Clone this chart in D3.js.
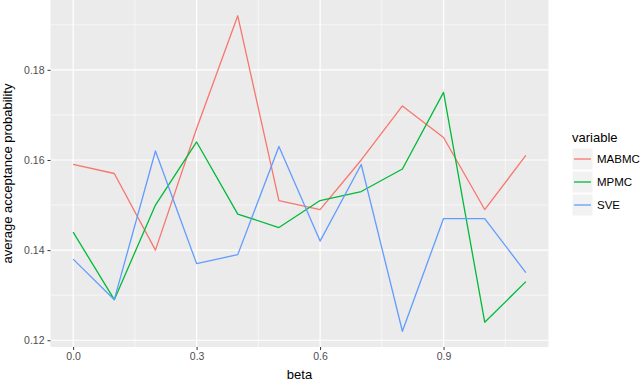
<!DOCTYPE html>
<html>
<head>
<meta charset="utf-8">
<script src="https://cdn.jsdelivr.net/npm/d3@7"></script>
<style>
  html, body { margin: 0; padding: 0; background: #fff; }
  svg { display: block; font-family: "Liberation Sans", Arial, sans-serif; }
</style>
</head>
<body>
<svg id="chart" width="640" height="382"></svg>
<script>
const beta = [0.0, 0.1, 0.2, 0.3, 0.4, 0.5, 0.6, 0.7, 0.8, 0.9, 1.0, 1.1];
const seriesNames = ["MABMC", "MPMC", "SVE"];
const MABMC = [0.159, 0.157, 0.140, 0.167, 0.192, 0.151, 0.149, 0.160, 0.172, 0.165, 0.149, 0.161];
const MPMC  = [0.144, 0.129, 0.150, 0.164, 0.148, 0.145, 0.151, 0.153, 0.158, 0.175, 0.124, 0.133];
const SVE   = [0.138, 0.129, 0.162, 0.137, 0.139, 0.163, 0.142, 0.159, 0.122, 0.147, 0.147, 0.135];
const xTicks = [0.0, 0.3, 0.6, 0.9];
const xMinor = [0.15, 0.45, 0.75, 1.05];
const yTicks = [0.12, 0.14, 0.16, 0.18];
const yMinor = [0.13, 0.15, 0.17, 0.19];
const colors = ["#F8766D", "#00BA38", "#619CFF"];
const seriesValues = [MABMC, MPMC, SVE];

const svg = d3.select("#chart");
const panel = { left: 50.5, right: 548.5, top: 0, bottom: 347 };

const allVals = seriesValues.flat();
const yMin = d3.min(allVals), yMax = d3.max(allVals);
const yPad = (yMax - yMin) * 0.05;
const xPad = (d3.max(beta) - d3.min(beta)) * 0.05;

const x = d3.scaleLinear().domain([d3.min(beta) - xPad, d3.max(beta) + xPad]).range([panel.left, panel.right]);
const y = d3.scaleLinear().domain([yMin - yPad, yMax + yPad]).range([panel.bottom, panel.top]);

// panel background
svg.append("rect").attr("x", panel.left).attr("y", panel.top)
  .attr("width", panel.right - panel.left).attr("height", panel.bottom - panel.top)
  .attr("fill", "#EBEBEB");

const grid = svg.append("g");
// minor grid
grid.selectAll(".ymin").data(yMinor).join("line")
  .attr("x1", panel.left).attr("x2", panel.right)
  .attr("y1", d => y(d)).attr("y2", d => y(d))
  .attr("stroke", "#fff").attr("stroke-width", 0.6);
grid.selectAll(".xmin").data(xMinor).join("line")
  .attr("y1", panel.top).attr("y2", panel.bottom)
  .attr("x1", d => x(d)).attr("x2", d => x(d))
  .attr("stroke", "#fff").attr("stroke-width", 0.6);
// major grid
grid.selectAll(".ymaj").data(yTicks).join("line")
  .attr("x1", panel.left).attr("x2", panel.right)
  .attr("y1", d => y(d)).attr("y2", d => y(d))
  .attr("stroke", "#fff").attr("stroke-width", 1.2);
grid.selectAll(".xmaj").data(xTicks).join("line")
  .attr("y1", panel.top).attr("y2", panel.bottom)
  .attr("x1", d => x(d)).attr("x2", d => x(d))
  .attr("stroke", "#fff").attr("stroke-width", 1.2);

// axes
const xAxis = d3.axisBottom(x).tickValues(xTicks).tickFormat(d3.format(".1f")).tickSize(3).tickPadding(3);
const yAxis = d3.axisLeft(y).tickValues(yTicks).tickFormat(d3.format(".2f")).tickSize(3).tickPadding(3);

const gx = svg.append("g").attr("transform", `translate(0,${panel.bottom})`).call(xAxis);
const gy = svg.append("g").attr("transform", `translate(${panel.left},0)`).call(yAxis);
[gx, gy].forEach(g => {
  g.select(".domain").remove();
  g.selectAll(".tick line").attr("stroke", "#333").attr("stroke-width", 1);
  g.selectAll(".tick text").attr("fill", "#4D4D4D").attr("font-size", "10.5px")
    .attr("font-family", "Liberation Sans, Arial, sans-serif");
});

// lines
const line = d3.line().x((d, i) => x(beta[i])).y(d => y(d));
svg.append("g").selectAll("path").data(seriesValues).join("path")
  .attr("d", d => line(d))
  .attr("fill", "none")
  .attr("stroke", (d, i) => colors[i])
  .attr("stroke-width", 1.3)
  .attr("stroke-linejoin", "round");

// axis titles
svg.append("text").attr("x", (panel.left + panel.right) / 2).attr("y", 379)
  .attr("text-anchor", "middle").attr("font-size", "13px").attr("fill", "#000").text("beta");
svg.append("text")
  .attr("transform", `translate(12,${(panel.top + panel.bottom) / 2}) rotate(-90)`)
  .attr("text-anchor", "middle").attr("font-size", "13px").attr("fill", "#000")
  .text("average acceptance probability");

// legend
const lg = svg.append("g").attr("transform", "translate(572,0)");
lg.append("text").attr("x", 0).attr("y", 142).attr("font-size", "13px").attr("fill", "#000").text("variable");
const items = lg.selectAll(".item").data(seriesNames).join("g")
  .attr("transform", (d, i) => `translate(0,${148 + i * 23})`);
items.append("rect").attr("x", 0).attr("y", 0).attr("width", 21).attr("height", 22)
  .attr("fill", "#F2F2F2").attr("stroke", "#fff").attr("stroke-width", 1);
items.append("line").attr("x1", 2).attr("x2", 19).attr("y1", 11).attr("y2", 11)
  .attr("stroke", (d, i) => colors[i]).attr("stroke-width", 1.3);
items.append("text").attr("x", 25).attr("y", 15).attr("font-size", "11.5px").attr("fill", "#000").text(d => d);
</script>
</body>
</html>
